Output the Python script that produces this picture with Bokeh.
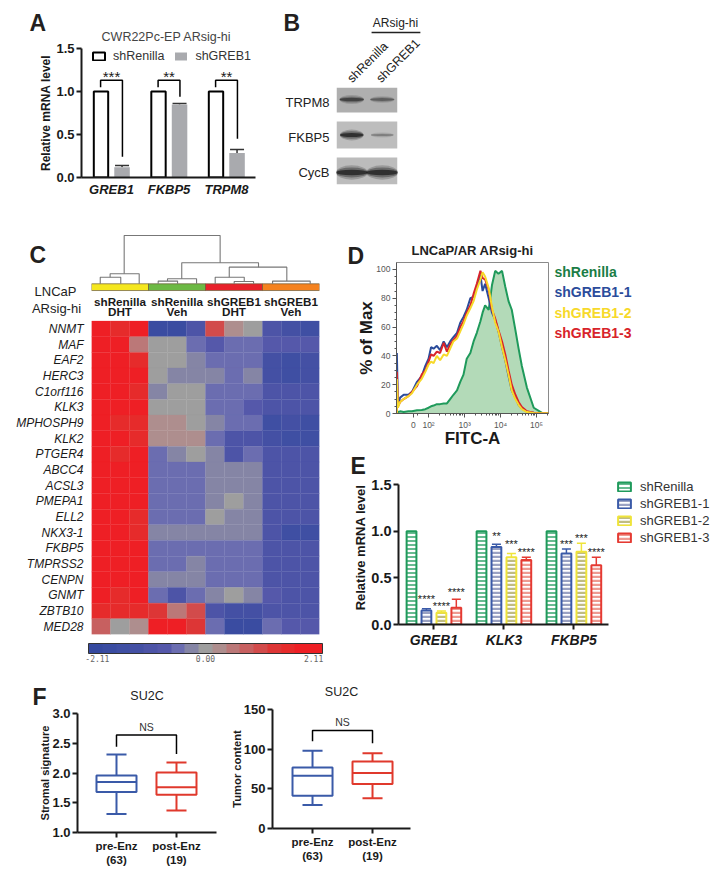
from bokeh.plotting import figure
from bokeh.embed import file_html
from bokeh.resources import INLINE
from bokeh.layouts import row, column
from bokeh.models import (Legend, LegendItem, Whisker, TeeHead, FixedTicker, LinearColorMapper,
                          ColorBar, ColumnDataSource, Range1d)
from bokeh.transform import transform
from bokeh.core.properties import value

FONT = "Liberation Sans"
INK = "#1a1a1a"

# ---------- Panel A
a_genes = ["GREB1", "FKBP5", "TRPM8"]
a_ctrl = [1.0, 1.0, 1.0]
a_kd = [0.12, 0.85, 0.285]
a_kd_err = [0.14, 0.86, 0.325]
a_stars = ["***", "**", "**"]
a_bracket_left = [1.05, 1.05, 1.05]
a_bracket_top = [1.13, 1.13, 1.13]
a_bracket_right = [0.24, 0.94, 0.45]

# ---------- Panel B
b_rows = ["TRPM8", "FKBP5", "CycB"]
b_lanes = ["shRenilla", "shGREB1"]
b_band_alpha = [[0.75, 0.5], [1.0, 0.32], [1.0, 1.0]]
b_band_h = [[5, 4], [6, 3], [8, 8]]
b_band_w = [[0.8, 0.8], [0.78, 0.75], [1.05, 1.05]]
b_bg = ["#afafaf", "#bdbdbd", "#bcbcbc"]

# ---------- Panel C
c_genes = ["NNMT", "MAF", "EAF2", "HERC3", "C1orf116", "KLK3", "MPHOSPH9", "KLK2", "PTGER4", "ABCC4",
           "ACSL3", "PMEPA1", "ELL2", "NKX3-1", "FKBP5", "TMPRSS2", "CENPN", "GNMT", "ZBTB10", "MED28"]
c_matrix = [
    [2, 1.5, 2, -1.74, -1.74, -0.9, 1.0, 0.25, 0, -1.0, -1.3, -1.5],
    [2, 2, 0.5, 0, 0, -0.5, -0.8, -0.5, -0.5, -0.75, -0.75, -0.75],
    [2, 2, 1.5, 0, 0, -0.25, -0.5, -0.5, -0.5, -1.2, -1.6, -1.2],
    [2, 2, 2, 0, -0.25, -0.25, -0.25, -0.5, -0.25, -1.3, -1.6, -1.3],
    [2, 2, 1.6, -0.35, 0, 0, -0.5, -0.5, -0.5, -1.1, -1.1, -1.1],
    [2, 2, 2, 0, 0, 0, -0.5, -0.6, -0.7, -1.1, -1.1, -1.1],
    [2, 1.6, 1.6, 0.25, 0.25, 0, -0.3, -0.5, -0.5, -1.6, -1.3, -1.6],
    [2, 2, 1.6, 0.25, 0.25, 0.25, -0.5, -0.9, -0.9, -1.2, -1.6, -1.6],
    [2, 1.6, 2, -0.5, -0.3, 0, -0.3, -0.9, -0.5, -1.1, -1.1, -1.1],
    [2, 2, 2, -0.5, -0.5, -0.5, -0.25, -0.25, -0.25, -1.1, -1.1, -1.1],
    [2, 2, 2, -0.5, -0.5, -0.5, -0.25, -0.25, -0.25, -1.1, -1.1, -1.1],
    [2, 2, 1.7, -0.5, -0.5, -0.5, -0.25, 0, -0.25, -1.1, -1.1, -1.1],
    [2, 2, 1.6, -0.5, -0.5, -0.5, 0, -0.25, -0.25, -1.1, -1.1, -1.1],
    [2, 2, 1.6, -0.25, -0.25, -0.25, -0.25, -0.25, -0.25, -1.1, -1.5, -1.4],
    [2, 2, 2, -0.5, -0.5, -0.5, -0.5, -0.5, -0.5, -1.1, -1.1, -1.1],
    [2, 2, 2, -0.5, -0.5, -0.25, -0.5, -0.5, -0.5, -1.1, -1.1, -1.1],
    [2, 2, 2, -0.25, -0.25, -0.25, -0.5, -0.5, -0.5, -1.1, -1.1, -1.1],
    [2, 1.6, 2, -0.5, -0.9, -0.5, -0.3, 0, -0.3, -0.75, -1.1, -1.1],
    [1.5, 1.6, 1.6, 1.3, 0.5, 1.1, -0.9, -1.2, -1.2, -1.1, -1.1, -1.1],
    [0.75, 0, 0.25, 2, 2, 1.3, -0.45, -1.7, -1.7, -0.55, -0.85, -0.85],
]
c_palette = ["#35499f", "#3a4ca1", "#3f4fa3", "#4450a4", "#4d54a7", "#5558aa", "#6b6db0", "#8585a5", "#9e9e9e",
             "#ae8e8e", "#bb7878", "#c76060", "#d24b4b", "#dd3636", "#e62b2b", "#ee1f25", "#ee1f25"]
c_groups = ["shRenilla\nDHT", "shRenilla\nVeh", "shGREB1\nDHT", "shGREB1\nVeh"]
c_group_colors = ["#f5e71e", "#6cb944", "#e8212a", "#f5821f"]
c_group_centers = [1.5, 4.5, 7.5, 10.5]
# dendrogram links: (left x, right x, left foot, right foot, merge height), x in columns, heights in row units
c_links = [
    (0.46, 1.54, 22.38, 22.38, 22.80), (0.98, 2.51, 22.80, 22.38, 23.02),
    (3.51, 4.53, 22.38, 22.38, 22.55), (4.0, 5.53, 22.55, 22.38, 22.70),
    (6.51, 8.04, 22.38, 22.53, 22.80), (7.51, 8.53, 22.38, 22.38, 22.53),
    (9.53, 11.51, 22.38, 22.38, 22.55), (7.25, 10.28, 22.80, 22.55, 23.44),
    (4.75, 8.79, 22.70, 23.44, 23.72), (1.72, 6.77, 23.02, 23.72, 25.46),
]

# ---------- Panel D
d_x = [1.12, 1.12, 1.15, 1.21, 1.31, 1.44, 1.54, 1.68, 1.81, 1.91, 2.0, 2.07, 2.14, 2.23, 2.32, 2.42, 2.51, 2.6, 2.69,
       2.79, 2.88, 2.97, 3.06, 3.16, 3.25, 3.34, 3.44, 3.5, 3.57, 3.67, 3.76, 3.85, 3.94, 4.04, 4.13, 4.22, 4.31, 4.41,
       4.5, 4.59, 4.73, 4.92, 5.15, 5.33]
d_renilla = [0.5, 0.5, 1, 1.5, 1, 1.5, 1.5, 2.2, 2.5, 3, 4, 5, 5.5, 6.5, 6.5, 7, 7, 10, 13, 16, 22, 27, 38, 42, 50, 56, 64,
             70, 75, 72, 89, 99, 97, 99, 88, 78, 72, 58, 45, 33, 18, 4, 0.5, 0.2]
d_greb1_1 = [0, 42, 6, 11, 13, 13, 15, 22, 26, 33, 38, 46, 45, 47, 44, 50, 46, 50, 53, 56, 63, 67, 72, 80, 81, 88, 96, 85,
             90, 80, 70, 65, 57, 46, 37, 26, 16, 11, 6, 3.5, 1.2, 0.5, 0.1, 0.1]
d_greb1_2 = [0, 24, 4, 8, 10, 12, 14, 20, 24, 29, 34, 36, 35, 40, 37, 41, 40, 45, 50, 52, 57, 62, 68, 73, 78, 86, 93, 98,
             95, 87, 74, 63, 57, 46, 37, 27, 16, 10, 6, 3, 1, 0.4, 0.1, 0.1]
d_greb1_3 = [0, 29, 5, 8, 10, 12, 15, 19, 27, 30, 36, 41, 40, 43, 42, 49, 43, 48, 51, 54, 60, 64, 70, 75, 83, 90, 99, 94,
             93, 86, 72, 66, 58, 50, 41, 30, 20, 13, 8, 4.5, 1.5, 0.5, 0.1, 0.1]
d_tick_pos = [1.575, 2, 3, 4, 5]
d_tick_labels = ["0", "10²", "10³", "10⁴", "10⁵"]
d_minor = [1.7, 2.3, 2.48, 2.6, 2.7, 2.78, 2.85, 2.9, 2.95, 3.3, 3.48, 3.6, 3.7, 3.78, 3.85, 3.9, 3.95, 4.3, 4.48,
           4.6, 4.7, 4.78, 4.85, 4.9, 4.95, 5.3]
d_names = ["shRenilla", "shGREB1-1", "shGREB1-2", "shGREB1-3"]
d_colors = ["#1a7d45", "#2b4c9b", "#f7d92a", "#d8232a"]

# ---------- Panel E
e_genes = ["GREB1", "KLK3", "FKBP5"]
e_names = ["shRenilla", "shGREB1-1", "shGREB1-2", "shGREB1-3"]
e_colors = ["#1f9a5b", "#3a5aa8", "#efe43a", "#e53a32"]
e_fills = ["#1f9a5b", "#8f98bd", "#b9b574", "#ec8f85"]
e_vals = [[1, 1, 1], [0.15, 0.83, 0.76], [0.125, 0.72, 0.78], [0.18, 0.69, 0.635]]
e_errs = [[1, 1, 1], [0.17, 0.86, 0.81], [0.145, 0.76, 0.87], [0.27, 0.72, 0.72]]
e_stars = [["", "", ""], ["****", "**", "***"], ["****", "***", "***"], ["****", "****", "****"]]
e_star_y = [[0, 0, 0], [0.27, 0.95, 0.86], [0.20, 0.86, 0.93], [0.345, 0.78, 0.78]]

# ---------- Panel F
f_groups = ["pre-Enz\n(63)", "post-Enz\n(19)"]
f_colors = ["#3a5aa8", "#e0392c"]
f1_low, f1_q1, f1_med, f1_q3, f1_high = [1.31, 1.37], [1.68, 1.635], [1.85, 1.76], [1.96, 2.01], [2.31, 2.175]
f1_bracket = (2.44, 2.64, 2.32)
f2_low, f2_q1, f2_med, f2_q3, f2_high = [29.5, 38], [41.3, 56], [66.6, 70], [77, 84.3], [98, 95]
f2_bracket = (110, 123.5, 107.5)


def panel(box, frame, xr, yr):
    L, T, R, B = box
    x0, y0, x1, y1 = frame
    p = figure(width=R - L, height=B - T, x_range=Range1d(*xr), y_range=Range1d(*yr),
               min_border_left=x0 - L, min_border_right=R - x1, min_border_top=y0 - T, min_border_bottom=B - y1,
               output_backend="svg", toolbar_location=None, outline_line_color=None,
               background_fill_color=None, border_fill_color=None)
    p.grid.visible = False
    return p


def style_axis(ax, lw=2, size="14px", tick=5, color=INK):
    ax.axis_line_width = lw
    ax.axis_line_color = color
    ax.major_tick_line_width = lw
    ax.major_tick_line_color = color
    ax.major_tick_in = 0
    ax.major_tick_out = tick
    ax.minor_tick_line_color = None
    ax.major_label_text_font = FONT
    ax.major_label_text_font_size = size
    ax.major_label_text_font_style = "bold"
    ax.major_label_text_color = color
    ax.major_label_standoff = 2
    ax.axis_label_text_font = FONT
    ax.axis_label_text_font_style = "bold"
    ax.axis_label_text_color = color


def lab(p, frame, text, px, py, size="12px", style="normal", color=INK, align="center", angle=0, baseline="middle"):
    """Place a caption at a page position, converted to this panel's own data coordinates."""
    x0, y0, x1, y1 = frame
    xr, yr = p.x_range, p.y_range
    x = xr.start + (px - x0) / (x1 - x0) * (xr.end - xr.start)
    y = yr.start + (y1 - py) / (y1 - y0) * (yr.end - yr.start)
    r = p.text([x], [y], text=[text], text_font=value(FONT), text_font_size=size, text_font_style=style,
               text_color=color, text_align=align, text_baseline=baseline, angle=angle, angle_units="deg")
    r.level = "annotation"


def letter(p, frame, text, px, py):
    lab(p, frame, text, px, py, size="23px", style="bold", color="#231f20", align="left")


# ===== A
fa = (81, 48, 255, 177)
pa = panel((0, 0, 262, 215), fa, (-0.522, 2.504), (0, 1.5))
xa = list(range(3))
r1 = pa.vbar([x - 0.183 for x in xa], top=a_ctrl, bottom=0, width=0.25, fill_color="white", line_color="black", line_width=2)
r2 = pa.vbar([x + 0.183 for x in xa], top=a_kd, bottom=0, width=0.27, fill_color="#a9aaae", line_color=None)
pa.add_layout(Whisker(base="x", upper="u", lower="l", source=ColumnDataSource(dict(
    x=[x + 0.183 for x in xa], u=a_kd_err, l=a_kd)), line_color="#333333", line_width=1.5,
    upper_head=TeeHead(size=14, line_color="#333333", line_width=1.5), lower_head=None))
pa.multi_line([[x - 0.19, x - 0.19, x + 0.19, x + 0.19] for x in xa],
              [[l, t, t, r] for l, t, r in zip(a_bracket_left, a_bracket_top, a_bracket_right)],
              line_color="black", line_width=1.5)
pa.text(xa, [1.17] * 3, text=a_stars, text_align="center", text_baseline="middle", text_font=value(FONT),
        text_font_size="15px", text_color=INK)
pa.yaxis.ticker = FixedTicker(ticks=[0, 0.5, 1.0, 1.5])
pa.yaxis.major_label_overrides = {0: "0.0", 0.5: "0.5", 1: "1.0", 1.5: "1.5"}
pa.xaxis.ticker = FixedTicker(ticks=xa)
pa.xaxis.major_label_overrides = dict(zip(xa, a_genes))
style_axis(pa.yaxis[0], size="13px")
style_axis(pa.xaxis[0])
pa.xaxis.major_tick_line_color = None
pa.xaxis.major_tick_out = 2
pa.xaxis.major_label_text_font_style = "bold italic"
pa.xaxis.major_label_text_font_size = "13px"
pa.yaxis.axis_label = "Relative mRNA level"
pa.yaxis.axis_label_text_font_size = "12px"
pa.yaxis.axis_label_standoff = 0
lg = Legend(items=[LegendItem(label="shRenilla", renderers=[r1]), LegendItem(label="shGREB1", renderers=[r2])],
            orientation="horizontal", location=(10, 114), background_fill_alpha=0, border_line_color=None, margin=0,
            padding=0, glyph_width=15, glyph_height=10, spacing=9, label_text_font=FONT, label_text_font_size="12.5px",
            label_text_color="#333333", label_standoff=7)
pa.add_layout(lg)
lab(pa, fa, "CWR22Pc-EP ARsig-hi", 166, 36, size="12.5px", color="#444444")
letter(pa, fa, "A", 29, 22)

# ===== B
fb = (336, 87, 397, 184)
pb = panel((262, 0, 715, 215), fb, (0, 2), (97, 0))
row_span = [(0, 25), (34, 61), (70, 97)]
band_c = [12, 47.5, 85]
for i, (t, b) in enumerate(row_span):
    pb.quad(left=0, right=2, top=t, bottom=b, fill_color=b_bg[i], line_color=None)
    for j in range(2):
        for scale, al in [(1.8, 0.22), (1.25, 0.4), (0.7, 0.8)]:
            pb.ellipse([j + 0.5], [band_c[i]], width=b_band_w[i][j], height=b_band_h[i][j] * scale,
                       fill_color="#222222", fill_alpha=al * b_band_alpha[i][j], line_color=None)
pb.axis.visible = False
for name, py in zip(b_rows, [102, 137, 172]):
    lab(pb, fb, name, 329, py, size="13px", align="right", color="#222222")
lab(pb, fb, "ARsig-hi", 395, 22, size="12px", color="#222222")
for name, px in zip(b_lanes, [349, 378]):
    lab(pb, fb, name, px, 80, size="12.5px", align="left", angle=45, color="#222222")
letter(pb, fb, "B", 283, 22)
rule = pb.segment(x0=[1.15], y0=[-55], x1=[2.75], y1=[-55], line_color="#222222", line_width=1.5)
rule.level = "annotation"

# ===== C
fc = (91, 230, 319, 634)
pc = panel((0, 215, 335, 675), fc, (0, 12), (0, 25.78))
cx, cy, cv = [], [], []
for i, rw in enumerate(c_matrix):
    for j, v in enumerate(rw):
        cx.append(j + 0.5)
        cy.append(19.5 - i)
        cv.append(v)
mapper = LinearColorMapper(palette=c_palette, low=-2.11, high=2.11)
pc.rect(x="x", y="y", width=1, height=1, source=ColumnDataSource(dict(x=cx, y=cy, v=cv)),
        fill_color=transform("v", mapper), line_color=transform("v", mapper), line_width=0.3)
pc.quad(left=[0, 3, 6, 9], right=[3, 6, 9, 12], bottom=[21.95] * 4, top=[22.38] * 4, fill_color=c_group_colors,
        line_color="#6b5a3a", line_width=0.7)
pc.multi_line([[a, a, b, b] for a, b, *_ in c_links], [[f0, h, h, f1] for _, _, f0, f1, h in c_links],
              line_color="#777777", line_width=1.1)
for name, xc in zip(c_groups, c_group_centers):
    top, bot = name.split("\n")
    pc.text([xc], [21.28], text=[top], text_align="center", text_baseline="middle", text_font=value(FONT),
            text_font_size="11.7px", text_font_style="bold", text_color=INK)
    pc.text([xc], [20.58], text=[bot], text_align="center", text_baseline="middle", text_font=value(FONT),
            text_font_size="11.7px", text_font_style="bold", text_color=INK)
pc.xaxis.visible = False
ticks_c = [19.5 - i for i in range(20)]
pc.yaxis.ticker = FixedTicker(ticks=ticks_c)
pc.yaxis.major_label_overrides = dict(zip(ticks_c, c_genes))
pc.yaxis.axis_line_color = None
pc.yaxis.major_tick_line_color = None
pc.yaxis.minor_tick_line_color = None
pc.yaxis.major_tick_out = 0
pc.yaxis.major_label_standoff = 8
pc.yaxis.major_label_text_font = FONT
pc.yaxis.major_label_text_font_style = "italic"
pc.yaxis.major_label_text_font_size = "12px"
pc.yaxis.major_label_text_color = INK
lab(pc, fc, "LNCaP", 55, 291, size="13px", color="#222222")
lab(pc, fc, "ARsig-hi", 56, 308, size="13px", color="#222222")
letter(pc, fc, "C", 29, 254)
cb = ColorBar(color_mapper=mapper, orientation="horizontal", width=234, height=10, location=(-12, 0), margin=0, padding=9,
              ticker=FixedTicker(ticks=[-1.95, 0, 1.95]),
              major_label_overrides={-1.95: "-2.11", 0: "0.00", 1.95: "2.11"},
              major_tick_line_color=None, major_label_text_font="DejaVu Sans Mono", major_label_text_font_size="8px",
              major_label_text_color="#666666", bar_line_color="#333333", bar_line_width=1, label_standoff=1,
              background_fill_alpha=0, border_line_color=None)
pc.add_layout(cb, "below")

# ===== D
fd = (396, 262, 548, 414)
pd_ = panel((335, 215, 715, 450), fd, (1.11, 5.33), (0, 104.8))
pd_.varea(d_x, y1=[0] * len(d_x), y2=d_renilla, fill_color="#b3dab8")
for ys, c in zip([d_renilla, d_greb1_1, d_greb1_3, d_greb1_2], [d_colors[0], d_colors[1], d_colors[3], d_colors[2]]):
    lc = "#1f9a5b" if c == d_colors[0] else c
    pd_.line(d_x, ys, line_color=lc, line_width=2)
pd_.outline_line_color = "#8a8a8a"
pd_.outline_line_width = 1
pd_.xaxis.ticker = FixedTicker(ticks=d_tick_pos, minor_ticks=d_minor)
pd_.xaxis.major_label_overrides = dict(zip(d_tick_pos, d_tick_labels))
pd_.yaxis.ticker = FixedTicker(ticks=[0, 20, 40, 60, 80, 100], minor_ticks=list(range(0, 105, 5)))
for ax in (pd_.xaxis[0], pd_.yaxis[0]):
    style_axis(ax, lw=1, size="8.5px", tick=4, color="#555555")
    ax.major_label_text_font_style = "normal"
    ax.minor_tick_line_color = "#555555"
    ax.minor_tick_in = 0
    ax.minor_tick_out = 2
    ax.axis_label_text_color = INK
    ax.axis_label_text_font_size = "17px"
pd_.xaxis.axis_label = "FITC-A"
pd_.xaxis.axis_label_standoff = -4
pd_.yaxis.axis_label = "% of Max"
pd_.yaxis.axis_label_standoff = -3
lab(pd_, fd, "LNCaP/AR ARsig-hi", 472, 250, size="13px", style="bold", color="#222222")
for name, c, py in zip(d_names, d_colors, [272, 292, 313, 333]):
    lab(pd_, fd, name, 554, py, size="14px", style="bold", color=c, align="left")
letter(pd_, fd, "D", 347, 255)

# ===== E
fe = (398, 470, 715, 624)
pe = panel((335, 450, 715, 675), fe, (-0.506, 4.023), (0, 1.65))
xe = list(range(3))
off = [-0.32, -0.107, 0.107, 0.32]
rend = []
for s in range(4):
    xs = [x + off[s] for x in xe]
    rend.append(pe.vbar(xs, top=e_vals[s], bottom=0, width=0.14, fill_color="white", line_color=e_colors[s],
                        line_width=2, hatch_pattern="horizontal_line", hatch_color=e_fills[s],
                        hatch_scale=4, hatch_weight=1.5 if s == 0 else 2.5, hatch_alpha=0.9))
    if s:
        pe.add_layout(Whisker(base="x", upper="u", lower="l", source=ColumnDataSource(dict(x=xs, u=e_errs[s], l=e_vals[s])),
                              line_color=e_colors[s], line_width=1.5, lower_head=None,
                              upper_head=TeeHead(size=9, line_color=e_colors[s], line_width=1.5)))
        pe.text(xs, e_star_y[s], text=e_stars[s], text_align="center", text_baseline="middle", text_font=value(FONT),
                text_font_size="11px", text_color=INK)
pe.yaxis.ticker = FixedTicker(ticks=[0, 0.5, 1.0, 1.5])
pe.yaxis.major_label_overrides = {0: "0.0", 0.5: "0.5", 1: "1.0", 1.5: "1.5"}
pe.yaxis.bounds = (0, 1.5)
pe.xaxis.ticker = FixedTicker(ticks=xe)
pe.xaxis.major_label_overrides = dict(zip(xe, e_genes))
style_axis(pe.yaxis[0], size="14.5px")
style_axis(pe.xaxis[0], size="14px")
pe.xaxis.bounds = (-0.506, 2.494)
pe.xaxis.major_label_text_font_style = "bold italic"
pe.yaxis.axis_label = "Relative mRNA level"
pe.yaxis.axis_label_text_font_size = "13px"
pe.yaxis.axis_label_standoff = 0
lge = Legend(items=[LegendItem(label=n, renderers=[r]) for n, r in zip(e_names, rend)], location=(218, 79),
             background_fill_alpha=0, border_line_color=None, margin=0, padding=0, glyph_width=16, glyph_height=11,
             spacing=2, label_text_font=FONT, label_text_font_size="13px", label_text_color="#333333", label_standoff=8)
pe.add_layout(lge)
letter(pe, fe, "E", 350, 465)


# ===== F
def box_panel(box, frame, xr, yr, ticks, fmt, low, q1, med, q3, high, br, ns_y, ylabel, title, title_y, ltr=None):
    p = panel(box, frame, xr, yr)
    xs = [0, 1]
    p.segment(xs, low, xs, q1, line_color=f_colors, line_width=2)
    p.segment(xs, q3, xs, high, line_color=f_colors, line_width=2)
    p.vbar(xs, top=q3, bottom=q1, width=0.667, fill_color="white", line_color=f_colors, line_width=2)
    for vals, hw in [(low, 0.167), (high, 0.167), (med, 0.333)]:
        p.segment([x - hw for x in xs], vals, [x + hw for x in xs], vals, line_color=f_colors, line_width=2)
    p.multi_line([[0, 0, 1, 1]], [[br[0], br[1], br[1], br[2]]], line_color="black", line_width=1.5)
    p.text([0.5], [ns_y], text=["NS"], text_align="center", text_baseline="middle", text_font=value(FONT),
           text_font_size="10.5px", text_color="#333333")
    p.yaxis.ticker = FixedTicker(ticks=ticks)
    p.yaxis.major_label_overrides = {t: fmt(t) for t in ticks}
    p.xaxis.ticker = FixedTicker(ticks=xs)
    p.xaxis.major_label_overrides = dict(zip(xs, f_groups))
    style_axis(p.yaxis[0], size="13px")
    style_axis(p.xaxis[0], size="11.5px")
    p.xaxis.major_label_standoff = 2
    p.yaxis.axis_label = ylabel
    p.yaxis.axis_label_text_font_size = "11.2px"
    p.yaxis.axis_label_standoff = -2
    lab(p, frame, title, (frame[0] + frame[2]) / 2, title_y, size="12.5px", color="#222222")
    if ltr:
        letter(p, frame, ltr, 32, 696)
    return p


pf1 = box_panel((0, 675, 225, 874), (77, 713, 216, 832), (-0.65, 1.667), (1, 3), [1, 1.5, 2, 2.5, 3],
                lambda t: f"{t:.1f}", f1_low, f1_q1, f1_med, f1_q3, f1_high, f1_bracket, 2.78,
                "Stromal signature", "SU2C", 695, "F")
pf2 = box_panel((225, 675, 415, 874), (272, 709, 410, 828), (-0.667, 1.633), (0, 150), [0, 50, 100, 150],
                lambda t: f"{t}", f2_low, f2_q1, f2_med, f2_q3, f2_high, f2_bracket, 134,
                "Tumor content", "SU2C", 691)

layout = column(
    row(column(pa), column(pb)),
    row(column(pc), column(column(pd_), column(pe))),
    row(column(pf1), column(pf2)),
)
open("out.html", "w").write(file_html(layout, INLINE))
